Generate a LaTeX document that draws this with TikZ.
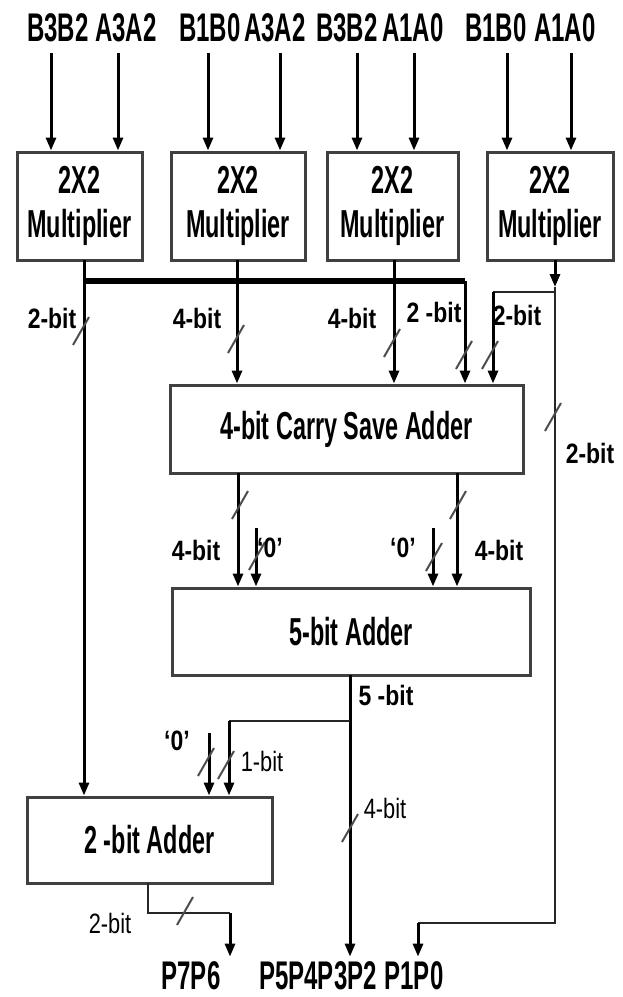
\documentclass[tikz,border=0pt]{standalone}
\usepackage{fontspec}
\usetikzlibrary{arrows.meta}
\newfontfamily\blockfont[FakeStretch=0.6]{Liberation Sans}
\newfontfamily\tagfont[FakeStretch=0.82]{Liberation Sans}
\newfontfamily\plainfont[FakeStretch=0.78]{Liberation Sans}
\newcommand\busmark[2]{\draw[slashmark] (#1-8,#2+14) -- (#1+8,#2-14);}
\tikzset{
  blk/.style={draw=black!75,line width=3pt,fill=white,inner sep=0pt,align=center,
    font=\blockfont\bfseries\fontsize{39}{44}\selectfont},
  port/.style={inner sep=0pt,font=\blockfont\bfseries\fontsize{40}{40}\selectfont},
  tag/.style={inner sep=0pt,font=\tagfont\bfseries\fontsize{28}{28}\selectfont},
  lighttag/.style={inner sep=0pt,font=\plainfont\fontsize{28}{28}\selectfont},
  wire/.style={line width=3pt,-{Triangle[length=13pt,width=10pt]}},
  fb/.style={line width=2.6pt,draw=black!85},
  bus/.style={line width=6.5pt},
  slashmark/.style={line width=2pt,draw=black!70},
}
\begin{document}
\begin{tikzpicture}[x=1pt,y=-1pt]
\useasboundingbox (0,0) rectangle (622,997);

% operand pairs on top
\foreach \t/\x [count=\i] in {B3B2/58,A3A2/126,B1B0/210,A3A2/275,B3B2/347,A1A0/413,B1B0/496,A1A0/565}
  \node[port] (in\i) at (\x,28) {\t};
\foreach \x [count=\i] in {51,118,208,280,357,414,507,571}
  \coordinate (a\i) at (\x,53);

% blocks
\node[blk,minimum width=125pt,minimum height=108pt] (m1) at (79.5,206) {2X2\\Multiplier};
\node[blk,minimum width=134pt,minimum height=108pt] (m2) at (238,206) {2X2\\Multiplier};
\node[blk,minimum width=131pt,minimum height=108pt] (m3) at (392.5,206) {2X2\\Multiplier};
\node[blk,minimum width=126pt,minimum height=108pt] (m4) at (550,206) {2X2\\Multiplier};
\node[blk,minimum width=353pt,minimum height=88pt] (csa) at (346.5,429) {4-bit Carry Save Adder};
\node[blk,minimum width=358pt,minimum height=87pt] (add5) at (351,631.5) {5-bit Adder};
\node[blk,minimum width=245pt,minimum height=86pt] (add2) at (149.5,840) {2 -bit Adder};

% product bits
\node[port] (p76) at (191,976) {P7P6};
\node[port] (p52) at (318,976) {P5P4P3P2};
\node[port] (p10) at (414,976) {P1P0};

\foreach \i/\m in {1/m1,2/m1,3/m2,4/m2,5/m3,6/m3,7/m4,8/m4}
  \draw[wire] (a\i) -- (a\i |- \m.north);

% multiplier outputs
\coordinate (o1) at (84,260);
\coordinate (o2) at (237,260);
\coordinate (o3) at (394,260);
\coordinate (o4) at (555,260);
\coordinate (bend) at (465,281);
\coordinate (k4) at (555,287);
\coordinate (j4) at (555,292);
\coordinate (c4) at (493,292);
\coordinate (f4) at (418,923);

\draw[bus] (o1 |- bend) -- (bend);
\draw[wire] (o1) -- (o1 |- add2.north);
\draw[wire] (o2) -- (o2 |- csa.north);
\draw[wire] (o3) -- (o3 |- csa.north);
\draw[wire] (bend) -- (bend |- csa.north);
\draw[wire] (o4) -- (k4);
\draw[fb] (k4) -- (k4 |- f4) -- (f4);
\draw[fb] (j4) -- (c4);
\draw[wire] (c4) -- (c4 |- csa.north);
\draw[wire,shorten >=5pt] (f4) -- (f4 |- p10.north);

% carry save adder to 5-bit adder
\coordinate (s1) at (238,473);
\coordinate (s2) at (457,473);
\coordinate (z1) at (256,528);
\coordinate (z2) at (433,528);
\foreach \c in {s1,s2,z1,z2}
  \draw[wire] (\c) -- (\c |- add5.north);

% 5-bit adder outputs
\coordinate (q) at (350,675);
\coordinate (q1) at (350,721);
\coordinate (q2) at (229,721);
\coordinate (z3) at (209,733);
\draw[wire,shorten >=5pt] (q) -- (q |- p52.north);
\draw[fb] (q1) -- (q2);
\draw[wire] (q2) -- (q2 |- add2.north);
\draw[wire] (z3) -- (z3 |- add2.north);

% 2-bit adder output
\coordinate (r) at (148,883);
\coordinate (r1) at (230,913);
\draw[fb] (r) -- (r |- r1) -- (r1);
\draw[wire,shorten >=5pt] (r1) -- (r1 |- p76.north);

% bus widths
\busmark{81}{331}
\busmark{236}{339}
\busmark{392}{343}
\busmark{464}{355}
\busmark{490}{355}
\busmark{553}{417}
\busmark{240}{505}
\busmark{458}{505}
\busmark{257}{556}
\busmark{434}{557}
\busmark{206}{762}
\busmark{226}{765}
\busmark{350}{828}
\busmark{185}{911}

\node[tag] (w1) at (52,318) {2-bit};
\node[tag] (w2) at (197,318) {4-bit};
\node[tag] (w3) at (352,318) {4-bit};
\node[tag] (w4) at (434,312) {2 -bit};
\node[tag] (w5) at (517,315) {2-bit};
\node[tag] (w6) at (590,453) {2-bit};
\node[tag] (w7) at (196,550) {4-bit};
\node[tag] (w8) at (270,548) {‘0’};
\node[tag] (w9) at (403,548) {‘0’};
\node[tag] (w10) at (499,550) {4-bit};
\node[tag] (w11) at (386,695) {5 -bit};
\node[tag] (w12) at (177,741) {‘0’};
\node[lighttag] (w13) at (262,761) {1-bit};
\node[lighttag] (w14) at (385,808) {4-bit};
\node[lighttag] (w15) at (110,923) {2-bit};
\end{tikzpicture}
\end{document}
